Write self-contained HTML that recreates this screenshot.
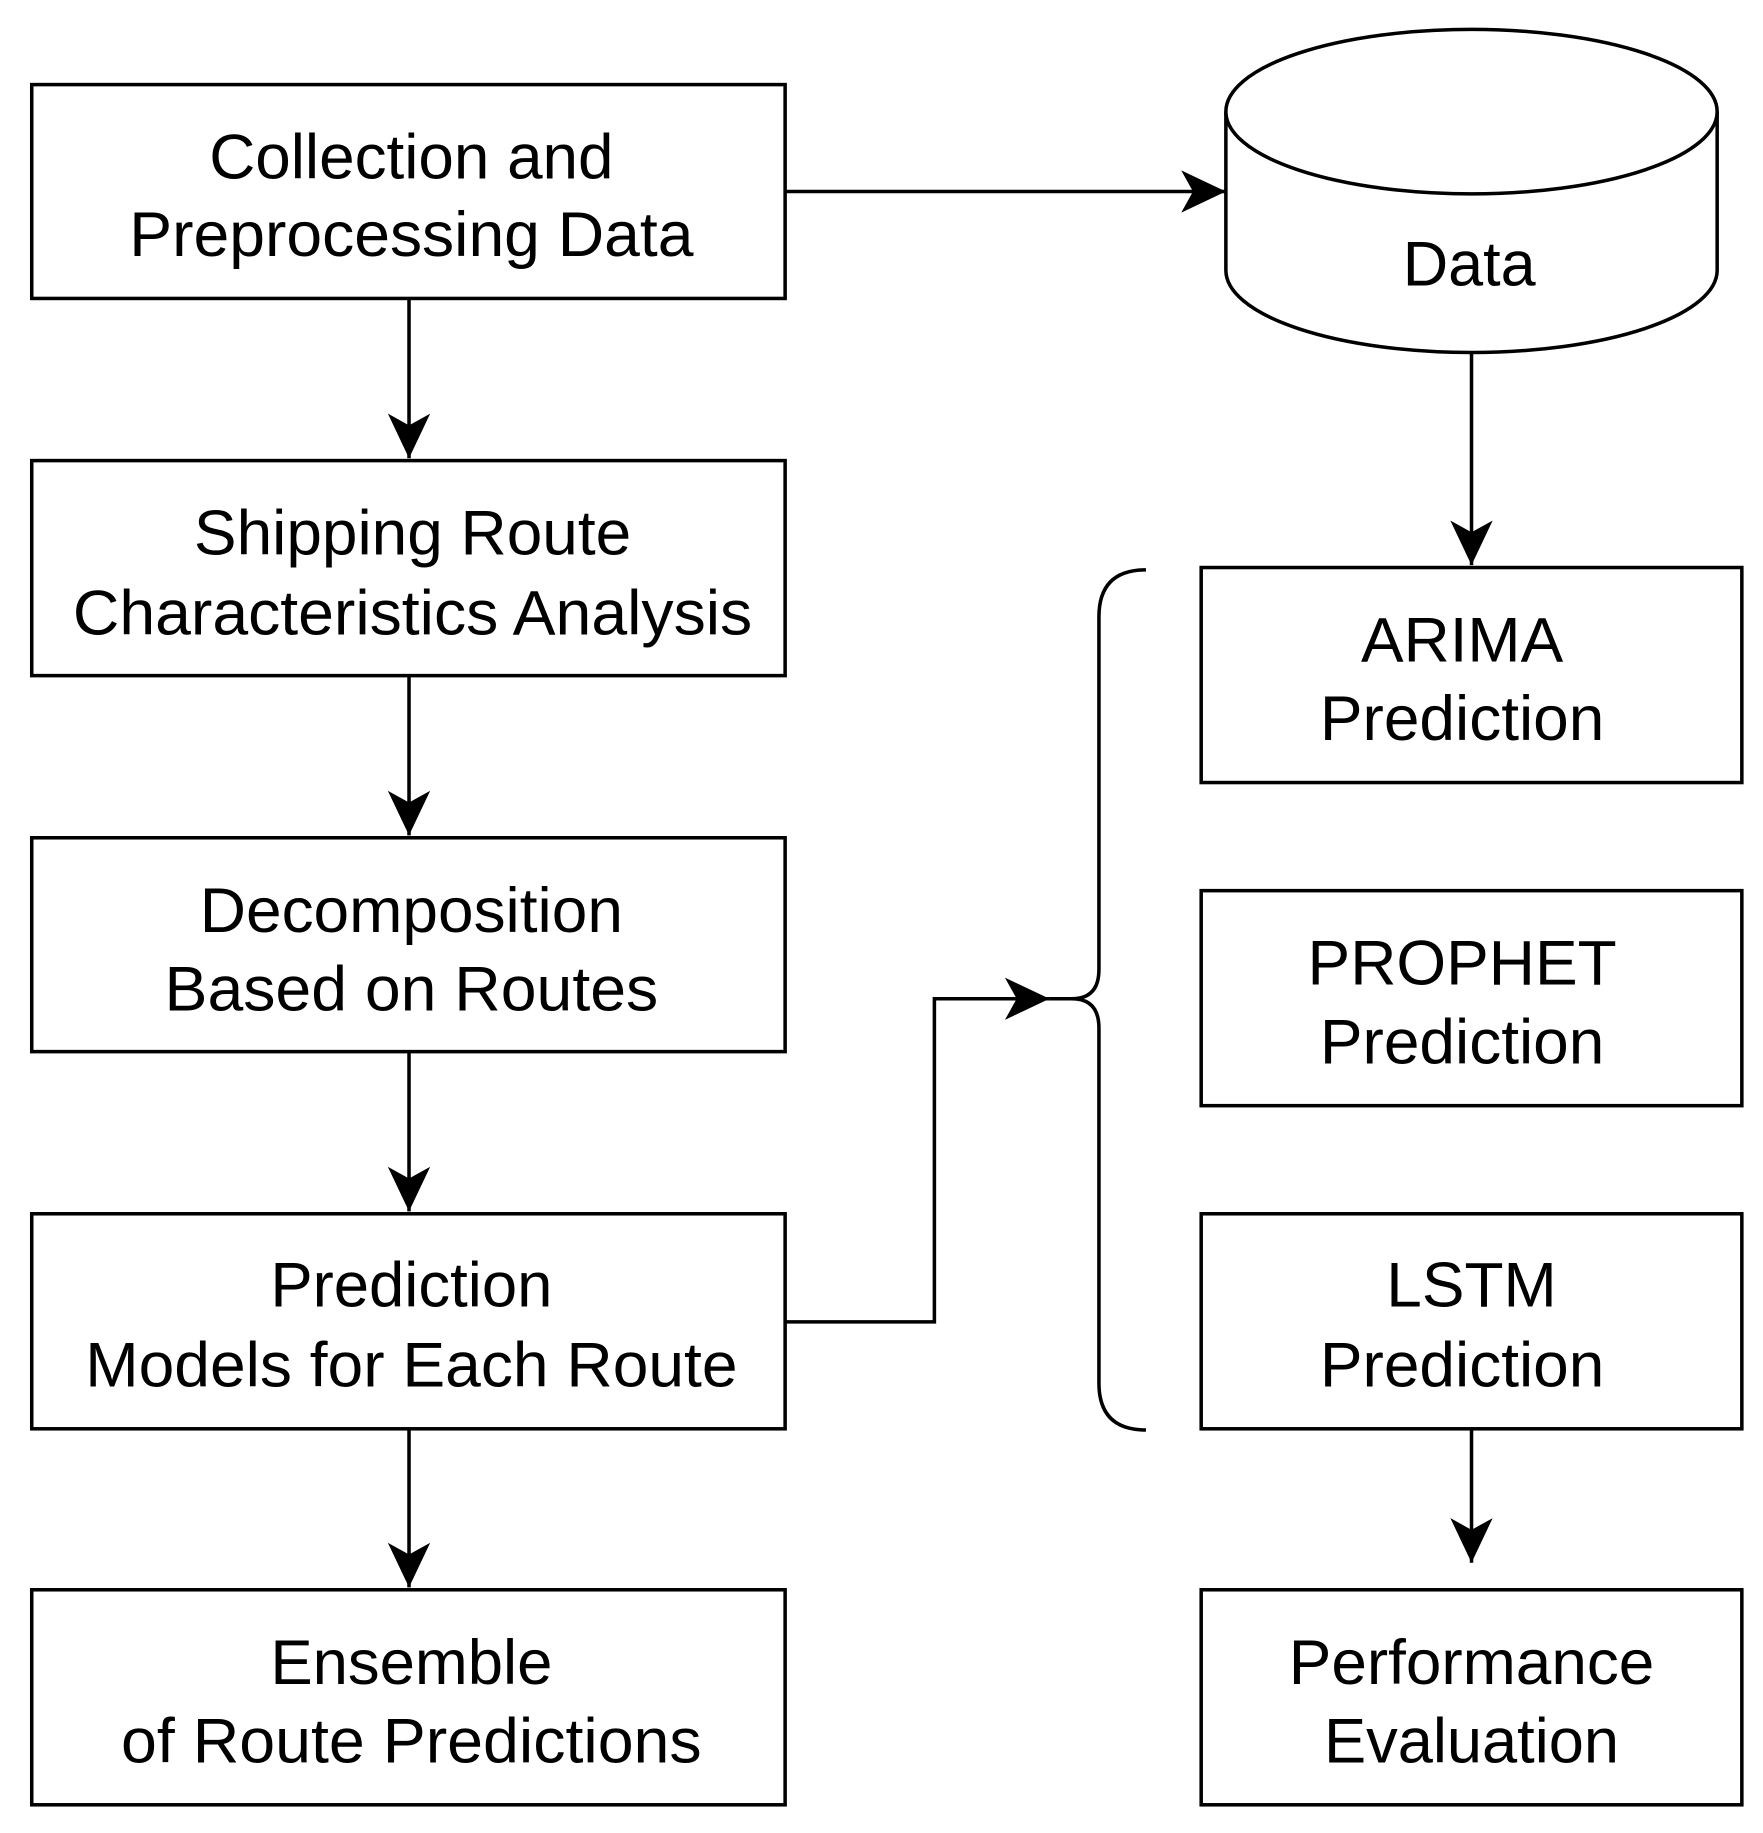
<!DOCTYPE html>
<html><head><meta charset="utf-8"><style>
html,body{margin:0;padding:0;background:#fff;}
svg{display:block;}
text{font-family:"Liberation Sans",Arial,sans-serif;font-size:54px;fill:#000;}
</style></head><body>
<svg width="1763" height="1833" viewBox="0 0 1500 1560" preserveAspectRatio="none" xmlns="http://www.w3.org/2000/svg">
<defs>
<marker id="ah" viewBox="0 0 40 36" refX="40" refY="18" markerWidth="40" markerHeight="36" markerUnits="userSpaceOnUse" orient="auto">
<path d="M40,18 L2,0 L12,18 L2,36 Z" fill="#000"/>
</marker>
</defs>
<g fill="#fff" stroke="#000" stroke-width="3">
<rect x="27" y="72" width="641" height="182"/>
<rect x="27" y="392" width="641" height="183"/>
<rect x="27" y="713" width="641" height="182"/>
<rect x="27" y="1033" width="641" height="183"/>
<rect x="27" y="1353" width="641" height="183"/>
<rect x="1022" y="483" width="460" height="183"/>
<rect x="1022" y="758" width="460" height="183"/>
<rect x="1022" y="1033" width="460" height="183"/>
<rect x="1022" y="1353" width="460" height="183"/>
<path d="M1043,95 L1043,230 A209,70 0 0 0 1461,230 L1461,95"/>
<ellipse cx="1252" cy="95" rx="209" ry="70"/>
</g>
<g fill="none" stroke="#000" stroke-width="3">
<line x1="348" y1="254" x2="348" y2="390" marker-end="url(#ah)"/>
<line x1="348" y1="575" x2="348" y2="711" marker-end="url(#ah)"/>
<line x1="348" y1="895" x2="348" y2="1031" marker-end="url(#ah)"/>
<line x1="348" y1="1216" x2="348" y2="1351" marker-end="url(#ah)"/>
<line x1="668" y1="163" x2="1043" y2="163" marker-end="url(#ah)"/>
<line x1="1252" y1="300" x2="1252" y2="481" marker-end="url(#ah)"/>
<line x1="1252" y1="1216" x2="1252" y2="1330" marker-end="url(#ah)"/>
<polyline points="668,1125 795,1125 795,850 893,850" marker-end="url(#ah)"/>
<path d="M975,485 Q935,485 935,525 L935,825 Q935,850 912,850 L893,850 M912,850 Q935,850 935,875 L935,1177 Q935,1217 975,1217"/>
</g>
<g text-anchor="middle">
<text x="350" y="152" textLength="344" lengthAdjust="spacingAndGlyphs">Collection and</text>
<text x="350" y="218" textLength="480" lengthAdjust="spacingAndGlyphs">Preprocessing Data</text>
<text x="351" y="472" textLength="372" lengthAdjust="spacingAndGlyphs">Shipping Route</text>
<text x="351" y="540" textLength="578" lengthAdjust="spacingAndGlyphs">Characteristics Analysis</text>
<text x="350" y="793" textLength="360" lengthAdjust="spacingAndGlyphs">Decomposition</text>
<text x="350" y="860" textLength="420" lengthAdjust="spacingAndGlyphs">Based on Routes</text>
<text x="350" y="1112" textLength="240" lengthAdjust="spacingAndGlyphs">Prediction</text>
<text x="350" y="1180" textLength="555" lengthAdjust="spacingAndGlyphs">Models for Each Route</text>
<text x="350" y="1433" textLength="240" lengthAdjust="spacingAndGlyphs">Ensemble</text>
<text x="350" y="1500" textLength="494" lengthAdjust="spacingAndGlyphs">of Route Predictions</text>
<text x="1250" y="243" textLength="113" lengthAdjust="spacingAndGlyphs">Data</text>
<text x="1244" y="563" textLength="172" lengthAdjust="spacingAndGlyphs">ARIMA</text>
<text x="1244" y="630" textLength="242" lengthAdjust="spacingAndGlyphs">Prediction</text>
<text x="1244" y="838" textLength="263" lengthAdjust="spacingAndGlyphs">PROPHET</text>
<text x="1244" y="905" textLength="242" lengthAdjust="spacingAndGlyphs">Prediction</text>
<text x="1252" y="1112" textLength="145" lengthAdjust="spacingAndGlyphs">LSTM</text>
<text x="1244" y="1180" textLength="242" lengthAdjust="spacingAndGlyphs">Prediction</text>
<text x="1252" y="1433" textLength="311" lengthAdjust="spacingAndGlyphs">Performance</text>
<text x="1252" y="1500" textLength="251" lengthAdjust="spacingAndGlyphs">Evaluation</text>
</g>
</svg>
</body></html>
